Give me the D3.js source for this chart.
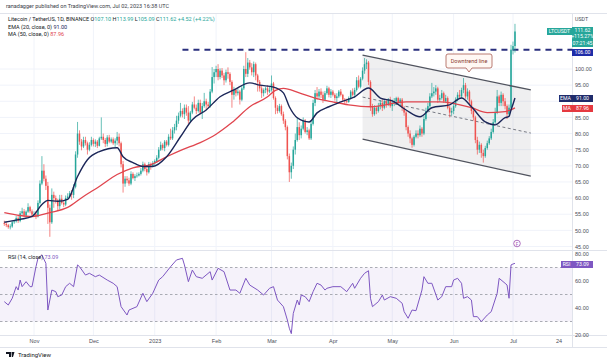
<!DOCTYPE html>
<html>
<head>
<meta charset="utf-8">
<script src="https://cdn.jsdelivr.net/npm/d3@7"></script>
<style>
  body { margin: 0; background: #fff; }
  svg { display: block; font-family: Roboto, "Liberation Sans", sans-serif; }
</style>
</head>
<body>
<svg id="chart" width="607" height="364"></svg>
<script>
// daily LTC/USDT candles, one value per day starting at startDate
const startDate = "2022-10-17";
const firstOpen = 52.3;
const closes = [
  52.0, 51.6, 51.0, 51.2, 52.5, 52.8, 53.8, 52.9, 55.3, 55.9, 54.6, 55.8, 57.2, 55.9, 54.9,
  55.0, 54.3, 58.5, 64.5, 68.5, 66.0, 63.8, 57.0, 52.5, 61.0, 60.0, 59.2, 57.5, 59.8, 58.5, 58.0, 60.0, 60.5, 61.5, 61.0, 63.5, 73.5, 80.0, 77.5, 76.0, 78.0, 77.0, 75.0, 76.5, 78.0,
  76.8, 77.5, 76.2, 78.5, 79.0, 78.0, 76.8, 78.8, 77.5, 78.2, 77.0, 77.8, 79.0, 77.0, 70.5, 64.5, 66.0, 65.5, 64.5, 67.5, 66.2, 66.8, 67.0, 67.5, 68.5, 70.5, 69.0, 68.0, 70.5, 70.0, 70.8,
  71.5, 72.5, 75.0, 76.5, 75.5, 77.5, 76.5, 79.0, 78.5, 81.0, 82.0, 84.0, 85.5, 87.0, 86.0, 88.0, 86.5, 84.0, 86.5, 89.0, 88.0, 87.0, 89.5, 86.5, 88.5, 90.0, 89.0, 88.5, 93.0, 97.5, 99.0,
  100.0, 97.5, 99.5, 98.0, 96.5, 99.0, 98.5, 96.0, 92.0, 93.5, 92.5, 93.0, 90.5, 94.0, 100.0, 98.5, 102.0, 100.5, 99.0, 101.5, 98.0, 96.0, 94.0, 92.5, 93.5, 94.0, 93.0, 93.5,
  95.5, 91.0, 88.0, 87.0, 88.5, 86.0, 84.0, 82.0, 73.0, 68.0, 70.0, 75.0, 78.0, 82.0, 79.5, 81.5, 84.0, 80.5, 81.0, 78.5, 83.0, 89.5, 92.5, 91.5, 93.0, 92.0, 90.5, 92.5, 94.0, 92.0, 93.0,
  92.0, 91.0, 91.5, 93.0, 92.0, 90.5, 90.0, 89.8, 91.0, 93.0, 92.0, 93.5, 96.5, 94.5, 97.0, 99.5, 101.5, 102.0, 96.0, 88.5, 86.0, 88.0, 87.0, 88.5, 89.5, 88.0, 90.0, 89.0, 90.5, 88.5,
  89.5, 90.0, 91.0, 89.5, 90.5, 88.0, 86.5, 82.0, 80.0, 78.5, 76.5, 79.0, 80.0, 79.5, 81.5, 80.0, 84.5, 87.0, 88.5, 91.5, 92.5, 93.0, 94.0, 90.5, 91.0, 92.5, 90.0, 91.0, 88.0, 86.5, 87.0,
  88.5, 90.5, 92.0, 91.5, 93.5, 95.0, 91.5, 93.0, 90.0, 87.0, 85.0, 78.0, 75.0, 76.5, 74.0, 73.0, 75.5, 77.0, 78.5, 80.5, 83.5, 86.5, 91.5, 89.5, 92.0, 90.0, 88.5, 86.0, 88.0, 106.0,
  107.1, 111.62
];
const highs = [
  53.0, 52.6, 52.0, 51.9, 53.0, 53.3, 54.4, 54.5, 56.0, 57.0, 56.6, 56.2, 58.4, 57.6, 56.5,
  55.9, 56.0, 59.3, 65.5, 73.0, 70.5, 67.0, 65.0, 58.0, 63.0, 62.0, 60.8, 59.8, 61.0, 61.0, 59.3, 60.8, 61.5, 62.2, 62.5, 64.3, 74.5, 83.6, 81.0, 78.3, 79.0, 79.0, 77.5, 77.3, 79.0,
  78.5, 78.2, 78.0, 79.0, 85.0, 80.0, 78.6, 79.5, 79.6, 78.8, 78.8, 78.5, 80.5, 80.0, 77.5, 71.5, 66.8, 66.8, 66.3, 68.3, 68.0, 67.4, 67.9, 68.0, 69.3, 71.3, 71.0, 69.6, 71.2, 71.0, 71.5,
  72.0, 73.3, 75.8, 77.5, 77.0, 78.0, 78.0, 79.8, 81.5, 82.0, 83.0, 85.5, 86.5, 89.5, 87.8, 89.0, 89.0, 88.5, 87.0, 89.8, 91.5, 89.0, 90.5, 90.5, 89.5, 92.6, 90.8, 89.8, 93.8, 100.6, 100.0,
  101.0, 101.5, 100.2, 100.3, 98.8, 99.8, 100.5, 99.0, 96.5, 94.5, 94.0, 94.0, 93.5, 95.0, 101.0, 105.2, 103.4, 102.8, 101.8, 102.3, 102.0, 98.5, 96.6, 95.0, 94.0, 94.5, 95.0, 94.5,
  98.0, 96.0, 91.5, 88.8, 89.2, 89.0, 86.8, 84.5, 82.5, 73.8, 71.0, 76.0, 80.0, 85.0, 83.5, 82.5, 85.0, 84.5, 82.0, 81.5, 84.0, 90.5, 93.5, 94.4, 93.8, 94.0, 93.0, 93.2, 94.8, 94.5, 93.8,
  93.5, 92.5, 92.5, 93.5, 93.8, 92.3, 91.0, 90.8, 91.5, 93.5, 94.0, 94.2, 97.5, 98.0, 97.5, 100.5, 103.4, 103.0, 102.5, 96.5, 89.2, 88.8, 88.5, 89.5, 90.4, 90.5, 90.5, 90.4, 91.0, 91.4,
  90.5, 91.0, 91.4, 91.4, 91.0, 91.0, 88.5, 87.0, 82.5, 81.0, 79.0, 79.5, 81.0, 81.0, 82.5, 82.0, 85.5, 88.0, 89.5, 92.5, 95.7, 94.4, 95.0, 94.5, 92.0, 93.5, 93.0, 92.0, 91.5, 88.5, 88.0,
  89.3, 91.2, 92.8, 93.5, 94.2, 97.2, 95.7, 94.0, 93.5, 90.5, 88.0, 85.5, 79.0, 77.5, 77.0, 75.0, 76.2, 77.8, 79.2, 81.5, 84.5, 88.0, 93.5, 92.0, 93.0, 92.5, 91.0, 89.0, 89.0, 107.5,
  108.5, 113.99
];
const lows = [
  51.4, 51.0, 50.5, 50.3, 50.8, 52.0, 52.4, 52.3, 52.5, 54.8, 54.0, 53.8, 55.4, 55.3, 54.3,
  54.2, 53.5, 54.0, 58.0, 64.0, 65.2, 62.5, 52.0, 48.0, 52.0, 57.0, 58.3, 56.0, 56.5, 58.0, 57.2, 57.5, 59.5, 60.0, 59.5, 60.0, 63.0, 72.5, 76.5, 74.8, 75.5, 76.3, 73.5, 74.5, 76.0,
  76.0, 75.8, 75.5, 76.0, 78.0, 77.0, 75.8, 76.0, 77.0, 77.0, 76.5, 75.8, 76.5, 76.0, 69.5, 61.7, 63.5, 64.6, 63.8, 64.0, 65.8, 65.3, 66.3, 66.7, 67.0, 68.0, 68.3, 67.0, 67.6, 68.8, 69.6,
  70.2, 71.0, 72.0, 74.6, 74.8, 74.5, 76.0, 76.0, 78.0, 78.0, 80.0, 81.0, 83.0, 85.0, 85.0, 84.5, 85.5, 83.0, 83.5, 86.0, 87.5, 86.0, 86.5, 86.0, 84.5, 88.0, 87.5, 88.0, 88.0, 92.5, 95.5,
  97.5, 96.5, 96.8, 97.2, 95.0, 95.8, 97.0, 95.0, 88.0, 90.5, 91.5, 91.8, 89.0, 90.0, 93.5, 97.5, 97.5, 99.8, 98.0, 97.5, 96.5, 93.0, 93.0, 91.0, 91.5, 92.5, 92.0, 92.5,
  93.0, 90.5, 86.0, 86.2, 86.5, 85.5, 83.0, 81.0, 72.0, 65.0, 66.0, 69.0, 73.5, 77.5, 78.0, 78.5, 81.0, 80.0, 79.5, 78.0, 78.0, 82.5, 88.5, 90.5, 90.8, 91.0, 89.5, 90.0, 92.0, 91.2, 91.0,
  91.5, 90.2, 89.5, 91.0, 91.5, 90.0, 89.2, 89.3, 89.5, 90.5, 91.5, 91.0, 93.0, 94.0, 94.0, 96.5, 98.5, 100.0, 95.0, 87.0, 85.2, 85.5, 86.0, 86.5, 87.5, 87.0, 87.5, 88.0, 88.5, 88.0,
  87.0, 88.5, 89.0, 89.0, 88.5, 87.0, 85.5, 81.0, 79.0, 77.0, 75.6, 76.0, 78.5, 78.5, 79.0, 79.0, 79.5, 84.0, 86.5, 88.0, 91.0, 91.5, 92.0, 89.5, 89.8, 90.5, 89.5, 89.5, 87.5, 85.0, 85.5,
  86.0, 88.0, 90.0, 90.8, 91.0, 92.5, 90.8, 90.5, 89.0, 86.0, 84.0, 77.0, 73.5, 74.0, 72.5, 71.0, 72.5, 75.0, 76.5, 78.0, 80.0, 83.0, 86.0, 88.5, 88.5, 88.5, 87.5, 84.5, 85.5, 87.5,
  104.5, 105.09
];

// indicator lines
const emaDates = ["2022-10-17", "2022-10-25", "2022-10-31", "2022-11-05", "2022-11-08", "2022-11-13", "2022-11-18", "2022-11-23", "2022-11-28", "2022-12-04", "2022-12-13", "2022-12-16", "2022-12-21", "2022-12-26", "2022-12-31", "2023-01-07", "2023-01-14", "2023-01-20", "2023-01-27", "2023-02-03", "2023-02-10", "2023-02-18", "2023-02-23", "2023-03-02", "2023-03-07", "2023-03-10", "2023-03-14", "2023-03-20", "2023-03-24", "2023-03-30", "2023-04-05", "2023-04-12", "2023-04-19", "2023-04-25", "2023-05-01", "2023-05-08", "2023-05-15", "2023-05-21", "2023-05-30", "2023-06-05", "2023-06-10", "2023-06-17", "2023-06-22", "2023-06-27", "2023-06-29", "2023-06-30", "2023-07-01", "2023-07-02"];
const emaValues = [52.5, 53.4, 54.3, 58.0, 59.3, 59.0, 59.6, 66.7, 71.9, 74.4, 75.6, 72.8, 71.0, 69.8, 69.8, 72.8, 79.0, 84.3, 87.3, 91.4, 93.5, 95.7, 95.0, 94.4, 92.6, 88.3, 84.9, 83.6, 86.4, 88.3, 89.8, 91.4, 94.1, 91.0, 90.1, 87.3, 85.2, 88.0, 88.9, 91.0, 88.3, 83.6, 82.7, 84.9, 85.3, 87.3, 89.1, 91.0];
const maDates = ["2022-10-17", "2022-10-25", "2022-10-31", "2022-11-09", "2022-11-18", "2022-11-26", "2022-12-04", "2022-12-13", "2022-12-21", "2022-12-30", "2023-01-07", "2023-01-15", "2023-01-24", "2023-02-01", "2023-02-09", "2023-02-18", "2023-02-27", "2023-03-03", "2023-03-07", "2023-03-15", "2023-03-23", "2023-04-01", "2023-04-09", "2023-04-20", "2023-05-08", "2023-05-25", "2023-06-10", "2023-06-18", "2023-06-27", "2023-07-02"];
const maValues = [55.5, 54.6, 54.3, 55.5, 57.1, 60.5, 63.6, 67.3, 69.4, 70.4, 72.8, 75.0, 77.2, 79.8, 83.4, 88.3, 91.4, 93.4, 94.0, 92.6, 91.0, 89.8, 88.9, 88.3, 89.8, 89.8, 88.0, 86.5, 86.8, 87.96];
const rsiDates = ["2022-10-17", "2022-10-19", "2022-10-21", "2022-10-23", "2022-10-24", "2022-10-25", "2022-10-26", "2022-10-28", "2022-10-30", "2022-10-31", "2022-11-02", "2022-11-03", "2022-11-05", "2022-11-07", "2022-11-08", "2022-11-10", "2022-11-12", "2022-11-13", "2022-11-15", "2022-11-17", "2022-11-19", "2022-11-21", "2022-11-23", "2022-11-24", "2022-11-27", "2022-11-29", "2022-12-02", "2022-12-04", "2022-12-08", "2022-12-11", "2022-12-13", "2022-12-15", "2022-12-18", "2022-12-19", "2022-12-23", "2022-12-26", "2022-12-28", "2022-12-31", "2023-01-03", "2023-01-05", "2023-01-09", "2023-01-12", "2023-01-15", "2023-01-16", "2023-01-18", "2023-01-20", "2023-01-22", "2023-01-25", "2023-01-29", "2023-01-30", "2023-02-02", "2023-02-05", "2023-02-08", "2023-02-11", "2023-02-13", "2023-02-16", "2023-02-18", "2023-02-22", "2023-02-25", "2023-02-28", "2023-03-02", "2023-03-04", "2023-03-07", "2023-03-09", "2023-03-10", "2023-03-11", "2023-03-12", "2023-03-14", "2023-03-15", "2023-03-16", "2023-03-18", "2023-03-20", "2023-03-22", "2023-03-24", "2023-03-26", "2023-03-28", "2023-03-29", "2023-04-01", "2023-04-05", "2023-04-08", "2023-04-11", "2023-04-12", "2023-04-15", "2023-04-17", "2023-04-19", "2023-04-20", "2023-04-21", "2023-04-24", "2023-04-26", "2023-04-27", "2023-04-30", "2023-05-03", "2023-05-06", "2023-05-07", "2023-05-09", "2023-05-11", "2023-05-13", "2023-05-16", "2023-05-17", "2023-05-19", "2023-05-21", "2023-05-24", "2023-05-26", "2023-05-28", "2023-05-31", "2023-06-01", "2023-06-03", "2023-06-05", "2023-06-06", "2023-06-08", "2023-06-10", "2023-06-11", "2023-06-13", "2023-06-15", "2023-06-18", "2023-06-20", "2023-06-23", "2023-06-24", "2023-06-27", "2023-06-28", "2023-06-29", "2023-06-30", "2023-07-01", "2023-07-02"];
const rsiValues = [44.7, 42.2, 47.2, 55.8, 53.3, 60.7, 55.8, 59.5, 55.8, 55.8, 70.6, 76.8, 79.3, 73.1, 38.5, 53.3, 52.1, 48.4, 49.6, 55.8, 58.3, 55.8, 71.9, 70.6, 64.4, 65.7, 63.2, 64.4, 60.7, 58.3, 55.8, 41.0, 34.8, 38.5, 41.0, 50.9, 44.7, 50.9, 60.7, 63.2, 70.6, 75.6, 76.8, 71.9, 59.5, 68.1, 63.2, 62.0, 66.9, 60.7, 69.4, 66.9, 53.3, 53.3, 50.9, 62.0, 57.0, 53.3, 49.6, 54.6, 55.8, 45.9, 41.0, 31.1, 25.0, 21.0, 36.0, 45.9, 42.2, 49.6, 48.4, 44.7, 52.1, 58.3, 57.0, 53.3, 54.6, 55.8, 55.8, 52.1, 58.3, 54.6, 62.0, 65.7, 67.6, 47.2, 41.0, 44.7, 49.6, 45.9, 48.4, 47.2, 43.5, 37.3, 32.4, 38.5, 38.0, 53.3, 63.2, 58.3, 58.3, 45.9, 48.4, 55.8, 55.8, 60.7, 62.0, 58.3, 47.2, 48.4, 45.9, 33.6, 33.6, 29.9, 34.8, 37.3, 50.9, 62.0, 58.3, 57.0, 47.2, 71.9, 72.6, 73.09];

// drawn annotations (date, price)
const channelTop = [["2023-04-16", 104.3], ["2023-07-10", 93.5]];
const channelBottom = [["2023-04-16", 78.3], ["2023-07-10", 66.8]];
const resistance = { from: "2023-01-15", price: 106 };

const priceGrid = [45, 50, 55, 60, 65, 70, 75, 80, 85, 90, 95, 100];
// 90.00 sits under the EMA / MA tags on the scale
const priceTicks = [45, 50, 55, 60, 65, 70, 75, 80, 85, 95, 100];
const rsiTicks = [20, 40, 60, 80];
const timeTicks = ["2022-11-01", "2022-12-01", "2023-01-01", "2023-02-01", "2023-03-01", "2023-04-01", "2023-05-01", "2023-06-01", "2023-07-01", "2023-07-24"];

const parse = d3.utcParse("%Y-%m-%d");
const upColor = "#26a69a", downColor = "#ef5350";
const emaColor = "#1b2658", maColor = "#e0454e", rsiColor = "#7e57c2";
const axisX = 572;

const svg = d3.select("#chart");

const x = d3.scaleUtc()
  .domain([parse("2022-11-01"), parse("2023-07-01")])
  .range([34, 513]);
const y = d3.scaleLinear().domain([45, 100]).range([246.5, 69]);
const yr = d3.scaleLinear().domain([30, 70]).range([321.5, 267.5]);

const defs = svg.append("defs");
defs.append("clipPath").attr("id", "pricePane")
  .append("rect").attr("x", 0).attr("y", 14).attr("width", axisX).attr("height", 236);
defs.append("clipPath").attr("id", "rsiPane")
  .append("rect").attr("x", 0).attr("y", 251).attr("width", axisX).attr("height", 84);

// grid
const grid = svg.append("g");
grid.selectAll("line.h")
  .data(priceGrid)
  .join("line")
  .attr("x1", 0).attr("x2", axisX)
  .attr("y1", d => y(d)).attr("y2", d => y(d))
  .attr("stroke", "#f0f3fa");
grid.selectAll("line.v")
  .data(timeTicks.slice(0, 9))
  .join("line")
  .attr("x1", d => x(parse(d))).attr("x2", d => x(parse(d)))
  .attr("y1", 14).attr("y2", 335)
  .attr("stroke", "#f0f3fa");

// frame lines
const frame = svg.append("g").attr("stroke", "#e0e3eb").attr("stroke-width", 1);
frame.append("line").attr("x1", 0).attr("x2", 607).attr("y1", 13.5).attr("y2", 13.5);
frame.append("line").attr("x1", 0).attr("x2", 607).attr("y1", 250.5).attr("y2", 250.5);
frame.append("line").attr("x1", 0).attr("x2", 607).attr("y1", 335.5).attr("y2", 335.5);
frame.append("line").attr("x1", 0).attr("x2", 607).attr("y1", 347.5).attr("y2", 347.5);
frame.append("line").attr("x1", axisX + 0.5).attr("x2", axisX + 0.5).attr("y1", 13).attr("y2", 348);

// price pane
const price = svg.append("g").attr("clip-path", "url(#pricePane)");

const chPts = channelTop.map(d => [x(parse(d[0])), y(d[1])])
  .concat(channelBottom.slice().reverse().map(d => [x(parse(d[0])), y(d[1])]));
price.append("polygon")
  .attr("points", chPts.map(p => p.join(",")).join(" "))
  .attr("fill", "#787b86")
  .attr("fill-opacity", 0.12);

const chLine = d3.line().x(d => x(parse(d[0]))).y(d => y(d[1]));
const midLine = channelTop.map((d, i) => [d[0], (d[1] + channelBottom[i][1]) / 2]);
price.append("path")
  .attr("d", chLine(midLine))
  .attr("fill", "none")
  .attr("stroke", "#6a6d78")
  .attr("stroke-width", 0.9)
  .attr("stroke-dasharray", "3,2.5");

price.append("line")
  .attr("x1", x(parse(resistance.from))).attr("x2", axisX)
  .attr("y1", y(resistance.price)).attr("y2", y(resistance.price))
  .attr("stroke", "#2a2f7d")
  .attr("stroke-width", 2)
  .attr("stroke-dasharray", "6,5");

const candles = closes.map((c, i) => ({
  date: d3.utcDay.offset(parse(startDate), i),
  open: i ? closes[i - 1] : firstOpen,
  high: highs[i],
  low: lows[i],
  close: c
}));

const cg = price.append("g");
cg.selectAll("line")
  .data(candles)
  .join("line")
  .attr("x1", d => x(d.date)).attr("x2", d => x(d.date))
  .attr("y1", d => y(d.high)).attr("y2", d => y(d.low))
  .attr("stroke", d => d.close >= d.open ? upColor : downColor)
  .attr("stroke-width", 0.7);
cg.selectAll("rect")
  .data(candles)
  .join("rect")
  .attr("x", d => x(d.date) - 0.75)
  .attr("width", 1.5)
  .attr("y", d => y(Math.max(d.open, d.close)))
  .attr("height", d => Math.max(0.8, Math.abs(y(d.open) - y(d.close))))
  .attr("fill", d => d.close >= d.open ? upColor : downColor);

const curve = d3.line()
  .x(d => x(parse(d[0])))
  .curve(d3.curveMonotoneX);
price.append("path")
  .attr("d", curve.y(d => y(d[1]))(d3.zip(maDates, maValues)))
  .attr("fill", "none")
  .attr("stroke", maColor)
  .attr("stroke-width", 1.3);
price.append("path")
  .attr("d", curve.y(d => y(d[1]))(d3.zip(emaDates, emaValues)))
  .attr("fill", "none")
  .attr("stroke", emaColor)
  .attr("stroke-width", 1.4);

// channel borders
[channelTop, channelBottom].forEach(seg => {
  price.append("path")
    .attr("d", chLine(seg))
    .attr("fill", "none")
    .attr("stroke", "#50535e")
    .attr("stroke-width", 1.3);
});

// callout
const note = price.append("g").attr("transform", "translate(469,61)");
note.append("path")
  .attr("d", "M-21,-7 H21 Q23,-7 23,-5 V5 Q23,7 21,7 H3 L0,11 L-3,7 H-21 Q-23,7 -23,5 V-5 Q-23,-7 -21,-7 Z")
  .attr("fill", "#fff8f4")
  .attr("stroke", "#a85a50")
  .attr("stroke-width", 0.8);
note.append("text")
  .attr("text-anchor", "middle")
  .attr("y", 2)
  .attr("font-size", 5.5)
  .attr("fill", "#8a3b32")
  .text("Downtrend line");

// RSI pane
const rsi = svg.append("g").attr("clip-path", "url(#rsiPane)");
rsi.append("rect")
  .attr("x", 0).attr("width", axisX)
  .attr("y", yr(70)).attr("height", yr(30) - yr(70))
  .attr("fill", rsiColor).attr("fill-opacity", 0.08);
rsi.selectAll("line.band")
  .data([70, 50, 30])
  .join("line")
  .attr("x1", 0).attr("x2", axisX)
  .attr("y1", d => yr(d)).attr("y2", d => yr(d))
  .attr("stroke", "#9598a1")
  .attr("stroke-width", 0.8)
  .attr("stroke-dasharray", "2.5,2.5");
rsi.append("path")
  .attr("d", d3.line().x(d => x(parse(d[0]))).y(d => yr(d[1]))(d3.zip(rsiDates, rsiValues)))
  .attr("fill", "none")
  .attr("stroke", rsiColor)
  .attr("stroke-width", 1);

// event marker
svg.append("circle")
  .attr("cx", 517).attr("cy", 243.5).attr("r", 3.3)
  .attr("fill", "#fff").attr("stroke", "#9c4fb0").attr("stroke-width", 0.8);
svg.append("text")
  .attr("x", 517).attr("y", 245.5)
  .attr("text-anchor", "middle")
  .attr("font-size", 4.5)
  .attr("fill", "#9c4fb0")
  .text("F");

// axes
const fmt = d3.format(".2f");
const pAxis = svg.append("g")
  .attr("transform", `translate(${axisX},0)`)
  .call(d3.axisRight(y).tickValues(priceTicks).tickFormat(fmt).tickSize(0).tickPadding(3));
const rAxis = svg.append("g")
  .attr("transform", `translate(${axisX},0)`)
  .call(d3.axisRight(yr).tickValues(rsiTicks).tickFormat(fmt).tickSize(0).tickPadding(3));
const monthFmt = d3.utcFormat("%b");
const tAxis = svg.append("g")
  .attr("transform", "translate(0,336)")
  .call(d3.axisBottom(x)
    .tickValues(timeTicks.map(parse))
    .tickSize(0).tickPadding(3)
    .tickFormat(d => d.getUTCMonth() === 0 ? "2023" : d.getUTCDate() === 24 ? "24" : monthFmt(d)));
[pAxis, rAxis, tAxis].forEach(a => {
  a.select(".domain").remove();
  a.selectAll("text").attr("font-size", 5.5).attr("fill", "#4a4d57").attr("font-family", null);
});
rAxis.selectAll(".tick").filter(d => d === 20).select("text").attr("dy", "0.2em");

// header and legend
const txt = (xp, yp, s, size, fill) => svg.append("text")
  .attr("x", xp).attr("y", yp).attr("font-size", size).attr("fill", fill).text(s);
txt(6, 8, "ranadagger published on TradingView.com, Jul 02, 2023 16:38 UTC", 5.5, "#3a3d47");
txt(575, 21, "USDT", 5.3, "#4a4d57");

const l1 = svg.append("text").attr("x", 8).attr("y", 21).attr("font-size", 5.5).attr("fill", "#131722");
l1.append("tspan").text("Litecoin / TetherUS, 1D, BINANCE  O");
[["107.10", " H"], ["113.99", " L"], ["105.09", " C"], ["111.62", " "], ["+4.52 (+4.22%)", ""]].forEach(p => {
  l1.append("tspan").attr("fill", upColor).text(p[0]);
  l1.append("tspan").text(p[1]);
});
const l2 = svg.append("text").attr("x", 8).attr("y", 28.5).attr("font-size", 5.5).attr("fill", "#131722");
l2.append("tspan").text("EMA (20, close, 0) ");
l2.append("tspan").attr("fill", emaColor).text("91.00");
const l3 = svg.append("text").attr("x", 8).attr("y", 36).attr("font-size", 5.5).attr("fill", "#131722");
l3.append("tspan").text("MA (50, close, 0) ");
l3.append("tspan").attr("fill", maColor).text("87.96");
const l4 = svg.append("text").attr("x", 8).attr("y", 259).attr("font-size", 5.5).attr("fill", "#131722");
l4.append("tspan").text("RSI (14, close) ");
l4.append("tspan").attr("fill", rsiColor).text("73.09");

// price tags on the scale
const tag = (x0, y0, w, h, fill, lines) => {
  svg.append("rect").attr("x", x0).attr("y", y0).attr("width", w).attr("height", h).attr("fill", fill);
  lines.forEach((s, i) => svg.append("text")
    .attr("x", x0 + w / 2).attr("y", y0 + 5 + i * 6.3)
    .attr("text-anchor", "middle").attr("font-size", 5.2).attr("fill", "#fff").text(s));
};
tag(547, 28, 25, 7, upColor, ["LTCUSDT"]);
tag(572, 27, 21, 20, upColor, ["111.62", "+115.27%", "07:21:45"]);
tag(572, 49, 21, 7, "#1f2ca8", ["106.00"]);
tag(559, 95, 13, 7, "#1f2b6b", ["EMA"]);
tag(572, 95, 21, 7, "#1f2b6b", ["91.00"]);
tag(562, 105, 10, 7, "#e53940", ["MA"]);
tag(572, 105, 21, 7, "#e53940", ["87.96"]);
tag(561, 261, 11, 7, rsiColor, ["RSI"]);
tag(572, 261, 21, 7, rsiColor, ["73.09"]);

// logo
const logo = svg.append("g").attr("transform", "translate(6,352)");
logo.append("path").attr("d", "M0,0 H5 V5 H3 V2 H0 Z M5.5,0 H8.5 L7,5 H5.8 Z").attr("fill", "#131722");
logo.append("text").attr("x", 12).attr("y", 5).attr("font-size", 6).attr("fill", "#131722").text("TradingView");
</script>
</body>
</html>
